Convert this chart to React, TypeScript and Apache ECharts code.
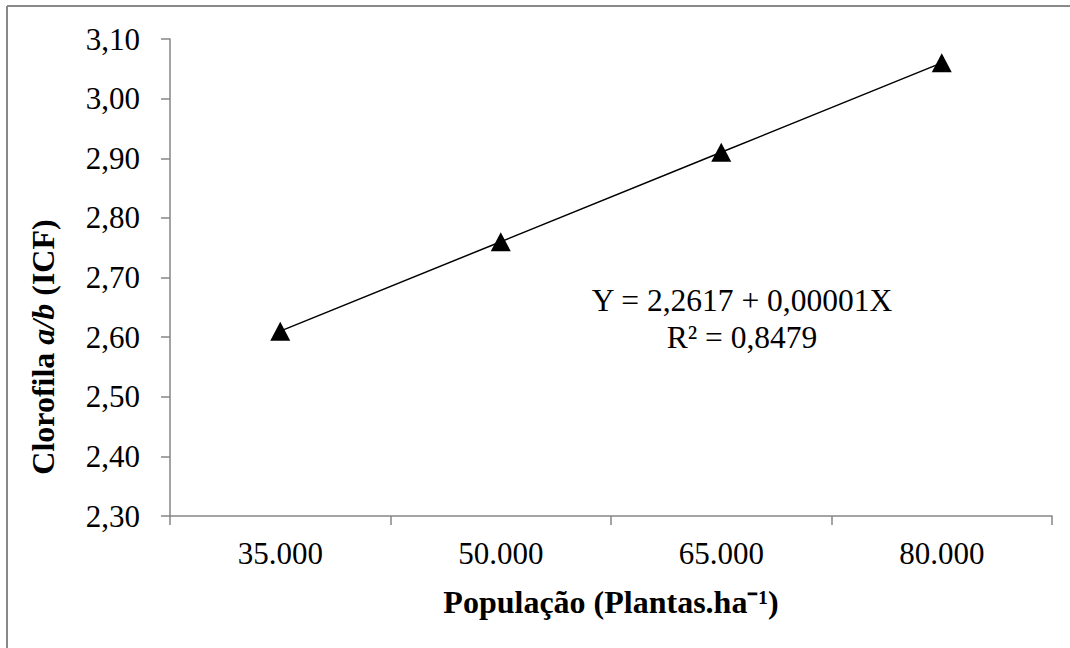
import React, { useEffect, useRef } from "react";
import * as echarts from "echarts";

const categories = ["35.000", "50.000", "65.000", "80.000"];
const values = [2.61, 2.76, 2.91, 3.06];
const yMin = 2.3;
const yMax = 3.1;
const yStep = 0.1;
const xTitle = "População (Plantas.ha⁻¹)";
const equationLines = ["Y = 2,2617 + 0,00001X", "R² = 0,8479"];

const FONT = "'Liberation Serif', 'Times New Roman', serif";
const AXIS_GRAY = "#868686";

export default function App() {
  const ref = useRef<HTMLDivElement>(null);
  useEffect(() => {
    if (!ref.current) return;
    const chart = echarts.init(ref.current, undefined, { renderer: "svg" });
    chart.setOption({
      animation: false,
      backgroundColor: "#ffffff",
      grid: { left: 170, right: 18, top: 39, bottom: 132, containLabel: false },
      xAxis: {
        type: "category",
        data: categories,
        boundaryGap: true,
        name: xTitle,
        nameLocation: "middle",
        nameGap: 70,
        nameTextStyle: { fontFamily: FONT, fontSize: 32, fontWeight: "bold", color: "#000" },
        axisLine: { lineStyle: { color: AXIS_GRAY, width: 1.5 } },
        axisTick: { show: true, alignWithLabel: false, length: 9, lineStyle: { color: AXIS_GRAY, width: 1.5 } },
        axisLabel: { fontFamily: FONT, fontSize: 31, color: "#000", margin: 22 },
        splitLine: { show: false },
      },
      yAxis: {
        type: "value",
        min: yMin,
        max: yMax,
        interval: yStep,
        axisLine: { show: true, lineStyle: { color: AXIS_GRAY, width: 1.5 } },
        axisTick: { show: true, length: 9, lineStyle: { color: AXIS_GRAY, width: 1.5 } },
        axisLabel: {
          fontFamily: FONT,
          fontSize: 31,
          color: "#000",
          margin: 30,
          formatter: (v: number) => v.toFixed(2).replace(".", ","),
        },
        splitLine: { show: false },
      },
      series: [
        {
          type: "line",
          data: values,
          symbol: "triangle",
          symbolSize: [20, 19],
          itemStyle: { color: "#000" },
          lineStyle: { color: "#000", width: 1.5 },
          z: 3,
        },
      ],
      graphic: [
        { type: "line", shape: { x1: 7, y1: 6, x2: 1070, y2: 6 }, style: { stroke: "#898989", lineWidth: 2 } },
        { type: "line", shape: { x1: 7, y1: 6, x2: 7, y2: 648 }, style: { stroke: "#898989", lineWidth: 2 } },
        {
          type: "text",
          x: 43,
          y: 347,
          rotation: Math.PI / 2,
          style: {
            text: "{b|Clorofila }{i|a/b}{b| (ICF)}",
            align: "center",
            verticalAlign: "middle",
            rich: {
              b: { fontFamily: FONT, fontSize: 32, fontWeight: "bold", fill: "#000" },
              i: { fontFamily: FONT, fontSize: 32, fontWeight: "bold", fontStyle: "italic", fill: "#000" },
            },
          },
        },
        {
          type: "text",
          x: 742,
          y: 300,
          style: {
            text: equationLines[0],
            align: "center",
            verticalAlign: "middle",
            fontFamily: FONT,
            fontSize: 31.5,
            fill: "#000",
          },
        },
        {
          type: "text",
          x: 742,
          y: 337,
          style: {
            text: equationLines[1],
            align: "center",
            verticalAlign: "middle",
            fontFamily: FONT,
            fontSize: 31.5,
            fill: "#000",
          },
        },
      ],
    });
    return () => chart.dispose();
  }, []);
  return (
    <div
      ref={ref}
      style={{ position: "fixed", left: 0, top: 0, width: 1070, height: 648, background: "#fff" }}
    />
  );
}
